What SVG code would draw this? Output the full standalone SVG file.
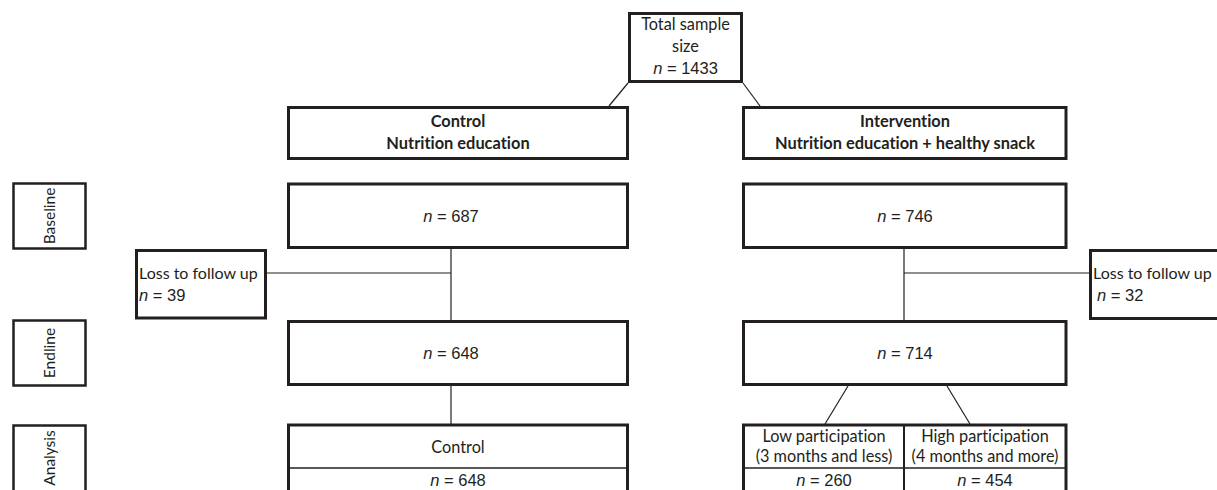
<svg xmlns="http://www.w3.org/2000/svg" width="1217" height="490" viewBox="0 0 1217 490">
<style>
.box{fill:#fff;stroke:#231f20;stroke-width:3}
.sbox{fill:#fff;stroke:#231f20;stroke-width:2.5}
.ln{stroke:#231f20;stroke-width:1.2;fill:none}
.div{stroke:#231f20;stroke-width:1.5;fill:none}
.t{font-family:Lato,"Open Sans","DejaVu Sans",sans-serif;font-size:16.3px;fill:#231f20;text-anchor:middle;font-variant-ligatures:none}
.tl{font-family:Lato,"Open Sans","DejaVu Sans",sans-serif;font-size:16px;fill:#231f20;font-variant-ligatures:none}
.s{font-size:15.5px}
.b{font-weight:bold;font-size:16.4px}
.n{font-family:"Liberation Sans",Arial,sans-serif;font-size:16.5px;fill:#231f20;text-anchor:middle}
.nl{font-family:"Liberation Sans",Arial,sans-serif;font-size:16.5px;fill:#231f20}
.i{font-style:italic}
</style>
<g id="connectors">
<line class="ln" x1="628" y1="83" x2="609" y2="106"/>
<line class="ln" x1="743" y1="83" x2="760" y2="106"/>
<line class="ln" x1="451" y1="249" x2="451" y2="320"/>
<line class="ln" x1="266" y1="273" x2="451" y2="273"/>
<line class="ln" x1="904" y1="249" x2="904" y2="320"/>
<line class="ln" x1="904" y1="273" x2="1089" y2="273"/>
<line class="ln" x1="451" y1="386" x2="451" y2="424"/>
<line class="ln" x1="848" y1="386" x2="825" y2="424"/>
<line class="ln" x1="947" y1="386" x2="970" y2="424"/>
</g>
<g id="total">
<rect class="box" x="629.5" y="13.5" width="112" height="68"/>
<text class="t" x="685.5" y="30">Total sample</text>
<text class="t" x="685.5" y="52">size</text>
<text class="n" x="685.5" y="74"><tspan class="i">n</tspan> = 1433</text>
</g>
<g id="control">
<rect class="box" x="288.5" y="107.5" width="339" height="51"/>
<text class="t b" x="458" y="127">Control</text>
<text class="t b" x="458" y="149">Nutrition education</text>
</g>
<g id="intervention">
<rect class="box" x="743.5" y="107.5" width="322.5" height="51"/>
<text class="t b" x="905" y="127">Intervention</text>
<text class="t b" x="905" y="149">Nutrition education + healthy snack</text>
</g>
<g id="label-baseline">
<rect class="sbox" x="13.5" y="183.5" width="72" height="65"/>
<text class="t s" transform="translate(55,216) rotate(-90)">Baseline</text>
</g>
<g id="label-endline">
<rect class="sbox" x="13.5" y="320.5" width="72" height="65"/>
<text class="t s" transform="translate(55,353) rotate(-90)">Endline</text>
</g>
<g id="label-analysis">
<rect class="sbox" x="13.5" y="425.5" width="72" height="80"/>
<text class="t s" transform="translate(55,458) rotate(-90)">Analysis</text>
</g>
<g id="control-baseline">
<rect class="box" x="288.5" y="184" width="339" height="63.5"/>
<text class="n" x="451" y="222"><tspan class="i">n</tspan> = 687</text>
</g>
<g id="intervention-baseline">
<rect class="box" x="743.5" y="184" width="322.5" height="63.5"/>
<text class="n" x="905" y="222"><tspan class="i">n</tspan> = 746</text>
</g>
<g id="loss-control">
<rect class="box" x="136.5" y="250.5" width="129" height="67.5"/>
<text class="tl" x="139" y="279">Loss to follow up</text>
<text class="nl" x="139" y="301"><tspan class="i">n</tspan> = 39</text>
</g>
<g id="loss-intervention">
<rect class="box" x="1090.5" y="250.5" width="140" height="68"/>
<text class="tl" x="1093" y="279">Loss to follow up</text>
<text class="nl" x="1097" y="301"><tspan class="i">n</tspan> = 32</text>
</g>
<g id="control-endline">
<rect class="box" x="288.5" y="321.5" width="339" height="63"/>
<text class="n" x="451" y="359"><tspan class="i">n</tspan> = 648</text>
</g>
<g id="intervention-endline">
<rect class="box" x="743.5" y="321.5" width="322.5" height="63"/>
<text class="n" x="905" y="359"><tspan class="i">n</tspan> = 714</text>
</g>
<g id="control-analysis">
<rect class="box" x="288.5" y="425" width="339" height="80"/>
<line class="div" x1="288.5" y1="468" x2="627.5" y2="468"/>
<text class="t" x="458" y="453">Control</text>
<text class="n" x="458" y="486"><tspan class="i">n</tspan> = 648</text>
</g>
<g id="intervention-analysis">
<rect class="box" x="743.5" y="425" width="322.5" height="80"/>
<line class="div" x1="743.5" y1="468" x2="1066" y2="468"/>
<line class="box" x1="904" y1="425" x2="904" y2="505" style="stroke-width:2"/>
<text class="t" x="824" y="442">Low participation</text>
<text class="t" x="824" y="462">(3 months and less)</text>
<text class="n" x="824" y="486"><tspan class="i">n</tspan> = 260</text>
<text class="t" x="985" y="442">High participation</text>
<text class="t" x="985" y="462">(4 months and more)</text>
<text class="n" x="985" y="486"><tspan class="i">n</tspan> = 454</text>
</g>
</svg>
